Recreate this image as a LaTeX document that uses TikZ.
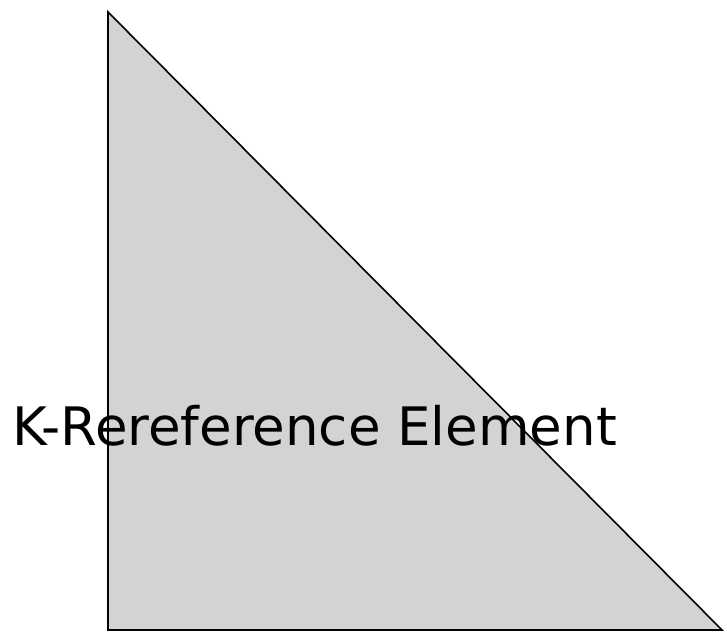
\documentclass[tikz,border=0pt]{standalone}
\usepackage{fontspec}
\setmainfont{DejaVu Sans}
\begin{document}
\begin{tikzpicture}[x=1pt,y=1pt]

\useasboundingbox (0,0) rectangle (727,633);

% Sommets
\coordinate (haut) at (108,621);
\coordinate (origine) at (108,3);
\coordinate (droite) at (722,3);

% Triangle
\draw[line width=1.6pt, fill={rgb,255:red,211;green,211;blue,211}]
(haut)
-- (origine)
-- (droite)
-- cycle;

% Légende
\node[anchor=base west, inner sep=0pt, font=\fontsize{53}{64}\selectfont]
(titre) at (12,188)
{K-Rereference Element};

\end{tikzpicture}
\end{document}
